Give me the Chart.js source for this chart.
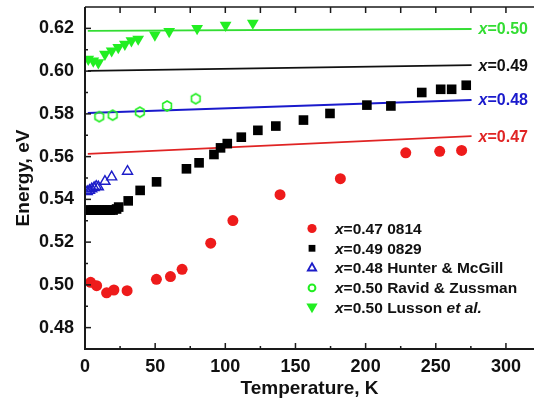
<!DOCTYPE html>
<html>
<head>
<meta charset="utf-8">
<script src="https://cdn.jsdelivr.net/npm/chart.js@4/dist/chart.umd.min.js"></script>
<style>
  html, body { margin: 0; padding: 0; background: #fff; }
  #wrap { width: 534px; height: 403px; }
</style>
</head>
<body>
<div id="wrap"><canvas id="chart" width="534" height="403"></canvas></div>
<script>
// x=0.47 sample 0814 (filled red circles)
const t0814 = [4, 8.3, 15.4, 20.6, 30, 50.9, 60.9, 69.2, 89.6, 105.4, 139, 182, 228.6, 252.8, 268.4];
const e0814 = [0.5012, 0.4996, 0.4963, 0.4976, 0.4973, 0.5026, 0.5039, 0.5073, 0.5195, 0.5301, 0.5422, 0.5497, 0.5618, 0.5625, 0.5629];

// x=0.49 sample 0829 (black squares)
const t0829 = [2, 4, 6, 8, 10, 12, 14, 16, 18, 20, 22.5, 24, 30.8, 39.3, 51, 72.3, 81.3, 91.9, 96.6, 101.4, 111.4, 123.2, 136, 155.7, 174.6, 200.9, 218, 240, 253.5, 261.3, 271.7];
const e0829 = [0.535, 0.535, 0.535, 0.535, 0.535, 0.535, 0.535, 0.535, 0.535, 0.535, 0.5355, 0.5364, 0.5393, 0.5442, 0.5482, 0.5543, 0.5571, 0.561, 0.5641, 0.5661, 0.5691, 0.5723, 0.5743, 0.5771, 0.5802, 0.5841, 0.5837, 0.590, 0.5915, 0.5915, 0.5934];

// x=0.48 Hunter & McGill (open blue triangles)
const tHunter = [1.6, 3.2, 4.8, 6.5, 8, 9.5, 14.2, 19, 30.3];
const eHunter = [0.5436, 0.5442, 0.5449, 0.5455, 0.5461, 0.5458, 0.5484, 0.5505, 0.5531];

// x=0.50 Ravid & Zussman (open green hexagons)
const tRavid = [10.2, 19.7, 39.1, 58.5, 78.9];
const eRavid = [0.5787, 0.5794, 0.5808, 0.5837, 0.5871];

// x=0.50 Lusson et al. (filled green down triangles)
const tLusson = [2.3, 5.9, 9.5, 14.2, 19, 23.7, 28.4, 33.1, 37.9, 49.8, 60, 79.9, 100.2, 119.6];
const eLusson = [0.6056, 0.6048, 0.6040, 0.6079, 0.6095, 0.6111, 0.6126, 0.6142, 0.6150, 0.6169, 0.6186, 0.6200, 0.6215, 0.6225];

// calculated gap lines, end points
const fitT = [2, 275.5];
const fit050 = [0.6188, 0.6197];
const fit049 = [0.6001, 0.6028];
const fit048 = [0.5804, 0.5865];
const fit047 = [0.5613, 0.5696];
const fitNames = ['0.50', '0.49', '0.48', '0.47'];

// axis ticks (every one gets a mark, the labelled ones get text)
const xTickValues = [0, 25, 50, 75, 100, 125, 150, 175, 200, 225, 250, 275, 300];
const xTickLabels = ['0', '50', '100', '150', '200', '250', '300'];
const yTickValues = [0.47, 0.48, 0.49, 0.50, 0.51, 0.52, 0.53, 0.54, 0.55, 0.56, 0.57, 0.58, 0.59, 0.60, 0.61, 0.62, 0.63];
const yTickLabels = ['0.48', '0.50', '0.52', '0.54', '0.56', '0.58', '0.60', '0.62'];

const legendNames = [
    [['x', true], ['=0.47 0814', false]],
    [['x', true], ['=0.49 0829', false]],
    [['x', true], ['=0.48 Hunter & McGill', false]],
    [['x', true], ['=0.50 Ravid & Zussman', false]],
    [['x', true], ['=0.50 Lusson ', false], ['et al.', true]]
];

const RED = '#ee1b1b', BLACK = '#000000', BLUE = '#1c1cc8', GREEN = '#22ee22', GREEN_LINE = '#33dd33';
const FONT = '"Liberation Sans", Arial, sans-serif';

function pts(xs, ys) {
    return xs.map((x, i) => ({ x: x, y: ys[i] }));
}

// hexagon marker for the Ravid & Zussman points
function hexagon(r, colour) {
    const c = document.createElement('canvas');
    const s = Math.ceil(r * 2 + 4);
    c.width = s; c.height = s;
    const g = c.getContext('2d');
    g.strokeStyle = colour;
    g.lineWidth = 1.6;
    g.beginPath();
    for (let k = 0; k < 6; k++) {
        const a = Math.PI / 2 + k * Math.PI / 3;
        const px = s / 2 + r * Math.cos(a), py = s / 2 - r * Math.sin(a);
        k ? g.lineTo(px, py) : g.moveTo(px, py);
    }
    g.closePath();
    g.stroke();
    return c;
}

function fitLine(ys, colour, name) {
    return {
        data: pts(fitT, ys),
        showLine: true,
        borderColor: colour,
        borderWidth: 1.8,
        pointRadius: 0,
        fitName: name,
        order: 5
    };
}

function drawRuns(ctx, runs, x, y, size, colour) {
    ctx.fillStyle = colour;
    ctx.textBaseline = 'middle';
    ctx.textAlign = 'left';
    runs.forEach(([txt, italic]) => {
        ctx.font = (italic ? 'italic ' : '') + 'bold ' + size + 'px ' + FONT;
        ctx.fillText(txt, x, y);
        x += ctx.measureText(txt).width;
    });
}

const decor = {
    id: 'decor',
    afterDatasetsDraw(chart) {
        const ctx = chart.ctx;
        const { left, right, top, bottom } = chart.chartArea;
        const xs = chart.scales.x, ys = chart.scales.y;
        ctx.save();
        ctx.strokeStyle = '#1a1a1a';

        // inward tick marks, bottom and top
        ctx.lineWidth = 1.5;
        xs.ticks.forEach(t => {
            if (t.value === 0) return;
            const px = xs.getPixelForValue(t.value);
            const len = xTickLabels.includes(String(t.value)) ? 6 : 3;
            ctx.beginPath();
            ctx.moveTo(px, bottom); ctx.lineTo(px, bottom - len);
            ctx.moveTo(px, top); ctx.lineTo(px, top + 6);
            ctx.stroke();
        });
        ys.ticks.forEach(t => {
            const py = ys.getPixelForValue(t.value);
            if (py > bottom - 1 || py < top + 1) return;
            const len = yTickLabels.includes(t.value.toFixed(2)) ? 6 : 3;
            ctx.beginPath();
            ctx.moveTo(left, py); ctx.lineTo(left + len, py);
            ctx.stroke();
        });

        // frame: left, bottom, top
        ctx.lineWidth = 2;
        ctx.beginPath();
        ctx.moveTo(left, top); ctx.lineTo(left, bottom); ctx.lineTo(right, bottom);
        ctx.stroke();
        ctx.lineWidth = 1.5;
        ctx.beginPath();
        ctx.moveTo(left, top); ctx.lineTo(right, top);
        ctx.stroke();

        // labels at the end of the gap lines
        chart.data.datasets.forEach((ds, i) => {
            if (!ds.fitName) return;
            const meta = chart.getDatasetMeta(i);
            const last = meta.data[meta.data.length - 1];
            drawRuns(ctx, [['x', true], ['=' + ds.fitName, false]], last.x + 7, last.y + 1, 16, ds.borderColor);
        });

        // legend
        const lx = 312, tx = 335, ly0 = 228.5, dy = 19.8;
        const marks = [
            { style: 'circle', r: 4.6, fill: RED, stroke: RED, bw: 0 },
            { style: 'rect', r: 4.8, fill: BLACK, stroke: BLACK, bw: 0 },
            { style: 'triangle', r: 4.8, fill: '#fff', stroke: BLUE, bw: 1.8 },
            { style: 'circle', r: 3.4, fill: '#fff', stroke: GREEN, bw: 2 },
            { style: 'triangle', r: 6.5, fill: GREEN, stroke: GREEN, bw: 0, rot: 180 }
        ];
        marks.forEach((m, i) => {
            const y = ly0 + i * dy;
            ctx.fillStyle = m.fill;
            ctx.strokeStyle = m.stroke;
            ctx.lineWidth = m.bw;
            Chart.helpers.drawPoint(ctx, { pointStyle: m.style, radius: m.r, rotation: m.rot || 0, borderWidth: m.bw }, lx, y + (m.rot ? -1 : 0));
            drawRuns(ctx, legendNames[i], tx, y + 1, 15.5, '#111');
        });
        ctx.restore();
    }
};

new Chart(document.getElementById('chart'), {
    type: 'scatter',
    data: {
        datasets: [
            {
                data: pts(t0814, e0814), pointStyle: 'circle', pointRadius: 5.5,
                backgroundColor: RED, borderColor: RED, borderWidth: 0, order: 1
            },
            {
                data: pts(t0829, e0829), pointStyle: 'rect', pointRadius: 6.8,
                backgroundColor: BLACK, borderColor: BLACK, borderWidth: 0, order: 1
            },
            {
                data: pts(tHunter, eHunter), pointStyle: 'triangle', pointRadius: 5.8,
                backgroundColor: 'rgba(255,255,255,0)', borderColor: BLUE, borderWidth: 1.4, order: 1
            },
            {
                data: pts(tRavid, eRavid), pointStyle: hexagon(5, GREEN), order: 1
            },
            {
                data: pts(tLusson, eLusson), pointStyle: 'triangle', pointRotation: 180, pointRadius: 6.8,
                backgroundColor: GREEN, borderColor: GREEN, borderWidth: 0, order: 1
            },
            fitLine(fit050, GREEN_LINE, fitNames[0]),
            fitLine(fit049, '#111111', fitNames[1]),
            fitLine(fit048, '#1a1acc', fitNames[2]),
            fitLine(fit047, '#e02424', fitNames[3])
        ]
    },
    options: {
        responsive: false,
        animation: false,
        layout: { autoPadding: false, padding: { top: 7, right: 0, bottom: 0, left: 0 } },
        plugins: { legend: { display: false }, tooltip: { enabled: false } },
        scales: {
            x: {
                type: 'linear', min: 0, max: 320, bounds: 'data',
                grid: { display: false, drawTicks: false },
                border: { display: false },
                afterBuildTicks(s) { s.ticks = xTickValues.map(v => ({ value: v })); },
                ticks: {
                    autoSkip: false, maxRotation: 0, padding: 7,
                    color: '#111', font: { family: FONT, size: 18, weight: 'bold' },
                    callback: v => xTickLabels.includes(String(v)) ? String(v) : ''
                },
                title: {
                    display: true, text: 'Temperature, K', color: '#111',
                    font: { family: FONT, size: 19, weight: 'bold' },
                    padding: { top: 0, bottom: 3 }
                },
                afterFit(s) { s.height = 54; s.paddingLeft = 0; s.paddingRight = 0; }
            },
            y: {
                type: 'linear', min: 0.47, max: 0.63, bounds: 'data',
                grid: { display: false, drawTicks: false },
                border: { display: false },
                afterBuildTicks(s) { s.ticks = yTickValues.map(v => ({ value: v })); },
                ticks: {
                    autoSkip: false, padding: 11,
                    color: '#111', font: { family: FONT, size: 18, weight: 'bold' },
                    callback: v => yTickLabels.includes(v.toFixed(2)) ? v.toFixed(2) : ''
                },
                title: {
                    display: true, text: 'Energy, eV', color: '#111',
                    font: { family: FONT, size: 19, weight: 'bold' },
                    padding: { top: 12, bottom: 0 }
                },
                afterFit(s) { s.width = 85; s.paddingTop = 0; s.paddingBottom = 0; }
            }
        }
    },
    plugins: [decor]
});
</script>
</body>
</html>
